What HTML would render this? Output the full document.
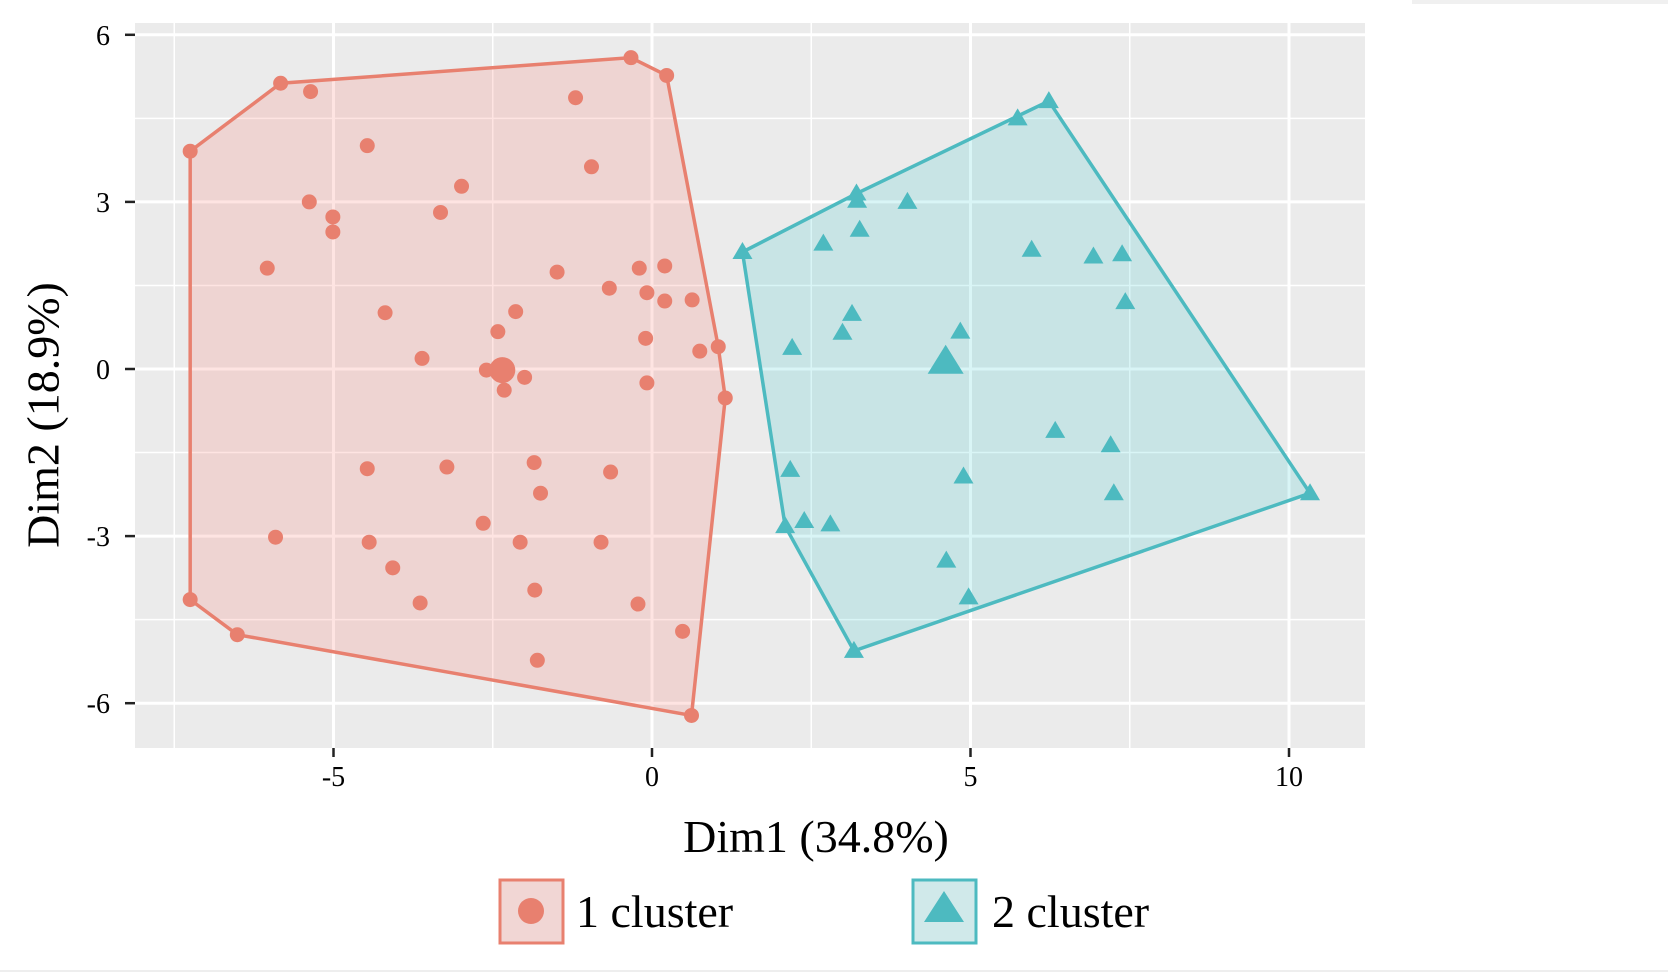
<!DOCTYPE html>
<html><head><meta charset="utf-8"><style>
body{margin:0;background:#fff;}
svg{display:block;font-family:"Liberation Serif",serif;}
</style></head><body>
<svg id="chart" width="1668" height="978">
<rect x="1412" y="0" width="256" height="4" fill="#f0f0f0"/>
<rect x="0" y="970" width="1668" height="2" fill="#eeeeee"/>
<rect x="135" y="23" width="1230" height="725" fill="#EBEBEB"/>
<g id="grid"></g><g id="hulls"></g><g id="pts"></g><g id="axes"></g>
<text x="48" y="415" font-size="46" text-anchor="middle" dominant-baseline="middle" transform="rotate(-90 48 415)">Dim2 (18.9%)</text>
<text x="816" y="852" font-size="46" text-anchor="middle">Dim1 (34.8%)</text>
<g>
<g>
<rect x="500" y="880" width="63" height="63" fill="#F1D6D4" stroke="#E8806F" stroke-width="3"/>
<circle cx="531" cy="911" r="13" fill="#E8806F"/>
<text x="576" y="927" font-size="46">1 cluster</text></g>
<g>
<rect x="913" y="880" width="63" height="63" fill="#D0E9EA" stroke="#4DBAC0" stroke-width="3"/>
<polygon points="944,891 964,922 924,922" fill="#4DBAC0"/>
<text x="992" y="927" font-size="46">2 cluster</text></g>
</g>
</svg>
<script>
const c1x=[-7.25,-5.83,-0.33,0.23,1.15,0.62,-6.51,-7.25,-5.36,-1.20,-4.47,-0.95,-5.38,-2.99,-5.01,-5.01,-3.32,-6.04,-1.49,-0.20,0.20,-0.67,-0.08,0.20,0.63,-4.19,-2.14,-2.42,-0.10,0.75,1.04,-3.61,-2.60,-2.32,-2.00,-0.08,-4.47,-3.22,-1.85,-0.65,-1.75,-2.65,-5.91,-4.44,-2.07,-0.80,-4.07,-1.84,-3.64,-0.22,0.48,-1.80];
const c1y=[3.91,5.13,5.59,5.27,-0.52,-6.22,-4.77,-4.14,4.98,4.87,4.01,3.63,3.00,3.28,2.73,2.46,2.81,1.81,1.74,1.81,1.85,1.45,1.37,1.22,1.24,1.01,1.03,0.67,0.55,0.32,0.40,0.19,-0.02,-0.38,-0.15,-0.25,-1.79,-1.76,-1.68,-1.85,-2.23,-2.77,-3.02,-3.11,-3.11,-3.11,-3.57,-3.97,-4.20,-4.22,-4.71,-5.23];
const c2x=[1.42,6.23,10.33,3.17,2.09,5.74,3.21,3.22,4.01,3.26,2.69,5.96,6.93,7.38,7.43,3.14,2.20,2.99,4.84,6.33,7.20,2.17,4.89,7.25,2.39,2.80,4.62,4.97];
const c2y=[2.10,4.81,-2.23,-5.06,-2.82,4.50,3.15,3.02,3.00,2.50,2.25,2.14,2.02,2.06,1.20,0.99,0.38,0.65,0.67,-1.11,-1.37,-1.81,-1.93,-2.23,-2.73,-2.79,-3.44,-4.10];
const centX=[-2.35,4.61];
const centY=[-0.02,0.13];
const xTicks=[-5,0,5,10];
const yTicks=[-6,-3,0,3,6];
const NS='http://www.w3.org/2000/svg';
const X=v=>652+v*63.7, Y=v=>369-v*55.7;
const L=135,R=1365,T=23,B=748;
function mk(tag,attrs,parent){const e=document.createElementNS(NS,tag);for(const k in attrs)e.setAttribute(k,attrs[k]);document.getElementById(parent).appendChild(e);return e;}
for(let v=-7.5;v<=10.5;v+=2.5){const isMaj=Math.abs(v%5)<1e-9;const g=mk('line',{x1:X(v),x2:X(v),y1:T,y2:B,stroke:'#fff','stroke-width':isMaj?3:1.5},'grid');

}
for(let v=-6;v<=6;v+=1.5){const isMaj=Math.abs(v%3)<1e-9;const g=mk('line',{x1:L,x2:R,y1:Y(v),y2:Y(v),stroke:'#fff','stroke-width':isMaj?3:1.5},'grid');

}
xTicks.forEach(t=>{const l=mk('line',{x1:X(t),x2:X(t),y1:B,y2:B+9,stroke:'#222','stroke-width':2.5},'axes');


const s=mk('text',{x:X(t),y:B+38,'font-size':28,'text-anchor':'middle'},'axes');s.textContent=t;

});
yTicks.forEach(t=>{const l=mk('line',{x1:L-10,x2:L,y1:Y(t),y2:Y(t),stroke:'#222','stroke-width':2.5},'axes');


const s=mk('text',{x:L-25,y:Y(t)+10,'font-size':28,'text-anchor':'end'},'axes');s.textContent=t;

});
function hull(xs,ys){const p=xs.map((x,i)=>[x,ys[i]]).sort((a,b)=>a[0]-b[0]||a[1]-b[1]);
const cr=(o,a,b)=>(a[0]-o[0])*(b[1]-o[1])-(a[1]-o[1])*(b[0]-o[0]);
const lo=[],up=[];for(const q of p){while(lo.length>=2&&cr(lo[lo.length-2],lo[lo.length-1],q)<=0)lo.pop();lo.push(q);}
for(let i=p.length-1;i>=0;i--){const q=p[i];while(up.length>=2&&cr(up[up.length-2],up[up.length-1],q)<=0)up.pop();up.push(q);}
up.pop();lo.pop();return lo.concat(up);}
const cols=['#E8806F','#4DBAC0'],fills=['rgba(248,118,109,0.2)','rgba(0,191,196,0.15)'];
[[c1x,c1y],[c2x,c2y]].forEach((d,k)=>{const h=hull(d[0],d[1]);
const pg=mk('polygon',{points:h.map(q=>X(q[0])+','+Y(q[1])).join(' '),fill:fills[k],stroke:cols[k],'stroke-width':3.5},'hulls');


d[0].forEach((x,i)=>{const cx=X(x),cy=Y(d[1][i]);let e;
if(k===0)e=mk('circle',{cx:cx,cy:cy,r:7.5,fill:cols[0]},'pts');
else e=mk('polygon',{points:`${cx},${cy-10} ${cx+10},${cy+7} ${cx-10},${cy+7}`,fill:cols[1]},'pts');

});
const cx=X(centX[k]),cy=Y(centY[k]);let e;
if(k===0)e=mk('circle',{cx:cx,cy:cy,r:13,fill:cols[0]},'pts');
else e=mk('polygon',{points:`${cx},${cy-17} ${cx+18},${cy+12} ${cx-18},${cy+12}`,fill:cols[1]},'pts');

});
</script>
</body></html>
